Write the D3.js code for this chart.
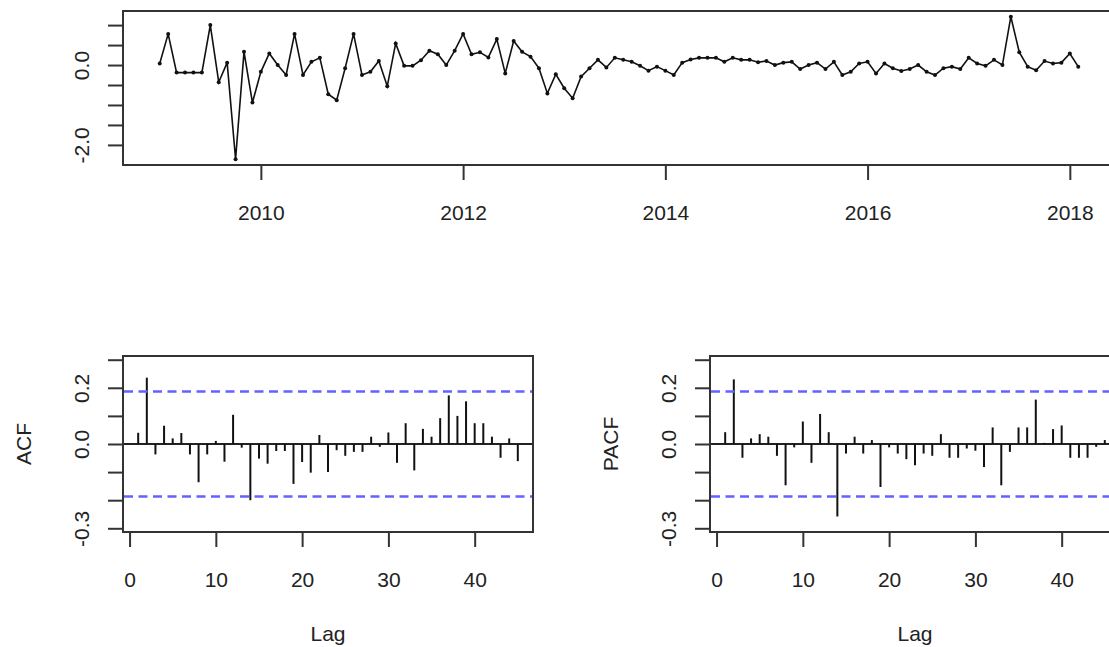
<!DOCTYPE html>
<html>
<head>
<meta charset="utf-8">
<script src="https://cdn.jsdelivr.net/npm/d3@7"></script>
<style>
  body { margin: 0; background: #fff; }
  svg { display: block; font-family: "Liberation Sans", Arial, sans-serif; }
</style>
</head>
<body>
<div id="chart"></div>
<script>
// monthly series, Jan 2009 - Feb 2018
const startYear = 2009;
const seriesValues = [
  0.04, 0.78, -0.19, -0.19, -0.19, -0.19, 1.0, -0.43, 0.06, -2.36, 0.33, -0.94,
  -0.17, 0.29, 0.0, -0.25, 0.78, -0.25, 0.08, 0.18, -0.73, -0.88, -0.08, 0.78,
  -0.25, -0.17, 0.10, -0.53, 0.54, -0.02, -0.02, 0.12, 0.36, 0.27, 0.0, 0.36,
  0.78, 0.27, 0.32, 0.19, 0.65, -0.21, 0.60, 0.33, 0.21, -0.08, -0.71, -0.23,
  -0.58, -0.83, -0.29, -0.08, 0.13, -0.06, 0.18, 0.13, 0.08, -0.02, -0.14, -0.04,
  -0.14, -0.25, 0.06, 0.14, 0.18, 0.18, 0.18, 0.08, 0.18, 0.13, 0.13, 0.07,
  0.10, 0.0, 0.06, 0.08, -0.10, 0.0, 0.06, -0.10, 0.08, -0.25, -0.17, 0.04,
  0.08, -0.21, 0.04, -0.08, -0.15, -0.10, 0.0, -0.17, -0.25, -0.08, -0.04, -0.10,
  0.18, 0.04, -0.02, 0.13, 0.0, 1.21, 0.32, -0.04, -0.13, 0.10, 0.04, 0.06,
  0.29, -0.04
];

// autocorrelations for lags 1..45
const acfValues = [
  0.040, 0.236, -0.037, 0.065, 0.020, 0.039, -0.037, -0.136, -0.037, 0.011,
  -0.063, 0.104, -0.013, -0.200, -0.052, -0.070, -0.025, -0.025, -0.142, -0.064,
  -0.102, 0.032, -0.100, -0.022, -0.042, -0.028, -0.028, 0.026, -0.010, 0.041,
  -0.067, 0.074, -0.094, 0.054, 0.026, 0.092, 0.173, 0.100, 0.152, 0.074,
  0.074, 0.026, -0.049, 0.020, -0.061
];
const pacfValues = [
  0.042, 0.230, -0.049, 0.020, 0.035, 0.026, -0.042, -0.147, -0.012, 0.080,
  -0.067, 0.107, 0.042, -0.258, -0.034, 0.026, -0.034, 0.014, -0.153, -0.012,
  -0.034, -0.054, -0.076, -0.034, -0.042, 0.035, -0.049, -0.049, -0.016, -0.024,
  -0.082, 0.059, -0.147, -0.028, 0.059, 0.059, 0.158, 0.004, 0.053, 0.066,
  -0.049, -0.049, -0.049, -0.010, 0.014
];
const ciLimit = 0.187;
const corrYLim = [-0.29, 0.29];

const yearTicks = [2010, 2012, 2014, 2016, 2018];
const seriesYTicks = [-2, -1.5, -1, -0.5, 0, 0.5, 1];
const seriesYLabels = [-2, 0];
const lagTicks = [0, 10, 20, 30, 40];
const corrYTicks = [-0.3, -0.2, -0.1, 0, 0.1, 0.2, 0.3];
const corrYLabels = [-0.3, 0, 0.2];

const width = 1109, height = 647;
const fontSize = 21;
const textColor = "#222";
const boxColor = "#333";
const ciColor = "#6262ff";

const fmt1 = d3.formatLocale({ decimal: ".", thousands: ",", grouping: [3], currency: ["", ""], minus: "-" }).format(".1f");

const svg = d3.select("#chart").append("svg")
    .attr("width", width)
    .attr("height", height)
    .style("font-size", fontSize + "px");

// R style range padding (4% each side)
function pad(ext) {
    const d = (ext[1] - ext[0]) * 0.04;
    return [ext[0] - d, ext[1] + d];
}

function bottomAxis(g, x, ticks, top, bottom, format) {
    g.append("g")
        .attr("transform", `translate(0,${bottom})`)
        .call(d3.axisBottom(x).tickValues(ticks).tickSize(15).tickPadding(25).tickFormat(format))
        .call(a => a.select(".domain").remove())
        .call(a => a.selectAll("line").attr("stroke", boxColor).attr("stroke-width", 2))
        .call(a => a.selectAll("text").attr("fill", textColor).attr("font-size", fontSize)
            .attr("font-family", null));
}

function leftAxis(g, y, left, ticks, labels) {
    g.append("g")
        .attr("transform", `translate(${left},0)`)
        .call(d3.axisLeft(y).tickValues(ticks).tickSize(15)
            .tickFormat(d => labels.includes(d) ? fmt1(d) : ""))
        .call(a => a.select(".domain").remove())
        .call(a => a.selectAll("line").attr("stroke", boxColor).attr("stroke-width", 2))
        .call(a => a.selectAll("text")
            .attr("fill", textColor).attr("font-size", fontSize).attr("font-family", null)
            .attr("text-anchor", "middle")
            .attr("x", 0).attr("y", -34).attr("dy", null)
            .attr("transform", "rotate(-90)"));
}

function box(g, x0, x1, y0, y1) {
    g.append("rect")
        .attr("x", x0).attr("y", y0)
        .attr("width", x1 - x0).attr("height", y1 - y0)
        .attr("fill", "none")
        .attr("stroke", boxColor)
        .attr("stroke-width", 2);
}

// ---- time series panel ----
{
    const L = 123, R = 1115, T = 11, B = 165;
    const times = seriesValues.map((v, i) => startYear + i / 12);
    const x = d3.scaleLinear().domain(pad(d3.extent(times))).range([L, R]);
    const y = d3.scaleLinear().domain(pad(d3.extent(seriesValues))).range([B, T]);
    const g = svg.append("g");

    const line = d3.line()
        .x((d, i) => x(times[i]))
        .y(d => y(d));

    g.append("path")
        .datum(seriesValues)
        .attr("fill", "none")
        .attr("stroke", "#111")
        .attr("stroke-width", 1.6)
        .attr("d", line);

    g.append("g")
        .selectAll("circle")
        .data(seriesValues)
        .join("circle")
        .attr("cx", (d, i) => x(times[i]))
        .attr("cy", d => y(d))
        .attr("r", 2)
        .attr("fill", "#111");

    box(g, L, R, T, B);
    bottomAxis(g, x, yearTicks, T, B, d3.format("d"));
    leftAxis(g, y, L, seriesYTicks, seriesYLabels);
}

// ---- correlogram panels ----
function correlogram(values, L, R, label) {
    const T = 356, B = 532;
    const lags = values.map((v, i) => i + 1);
    const x = d3.scaleLinear().domain(pad(d3.extent(lags))).range([L, R]);
    const y = d3.scaleLinear().domain(pad(corrYLim)).range([B, T]);
    const g = svg.append("g");

    g.append("line")
        .attr("x1", L).attr("x2", R)
        .attr("y1", y(0)).attr("y2", y(0))
        .attr("stroke", "#222")
        .attr("stroke-width", 2);

    g.append("g")
        .selectAll("line")
        .data(values)
        .join("line")
        .attr("x1", (d, i) => x(lags[i]))
        .attr("x2", (d, i) => x(lags[i]))
        .attr("y1", y(0))
        .attr("y2", d => y(d))
        .attr("stroke", "#111")
        .attr("stroke-width", 2);

    g.append("g")
        .selectAll("line")
        .data([ciLimit, -ciLimit])
        .join("line")
        .attr("x1", L + 1).attr("x2", R)
        .attr("y1", d => y(d)).attr("y2", d => y(d))
        .attr("stroke", ciColor)
        .attr("stroke-width", 2.6)
        .attr("stroke-dasharray", "9,5.5");

    box(g, L, R, T, B);
    bottomAxis(g, x, lagTicks, T, B, d3.format("d"));
    leftAxis(g, y, L, corrYTicks, corrYLabels);

    g.append("text")
        .attr("x", (L + R) / 2)
        .attr("y", 641)
        .attr("text-anchor", "middle")
        .attr("fill", textColor)
        .text("Lag");

    g.append("text")
        .attr("transform", `translate(${L - 92},${(T + B) / 2}) rotate(-90)`)
        .attr("text-anchor", "middle")
        .attr("fill", textColor)
        .text(label);
}

correlogram(acfValues, 123, 533, "ACF");
correlogram(pacfValues, 710, 1120, "PACF");
</script>
</body>
</html>
